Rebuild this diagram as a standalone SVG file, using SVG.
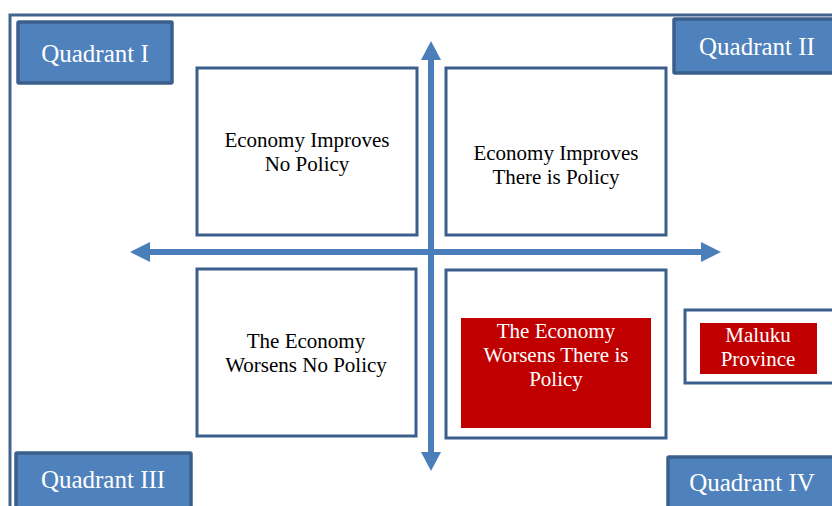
<svg xmlns="http://www.w3.org/2000/svg" width="832" height="506" viewBox="0 0 832 506">
<style>
  .frame{fill:none;stroke:#41658f;stroke-width:3}
  .box{fill:#ffffff;stroke:#3b5f8c;stroke-width:3}
  .quad{fill:#4f81bd;stroke:#3b5f8c;stroke-width:3.5}
  .red{fill:#c00000}
  .axis{stroke:#4a7ebb;stroke-width:6;fill:none}
  .head{fill:#4a7ebb}
  text{font-family:"Liberation Serif","Times New Roman",serif;text-anchor:middle}
  .qt{fill:#ffffff;font-size:25px}
  .bt{fill:#000000;font-size:21px}
  .wt{fill:#ffffff;font-size:21px}
</style>
<rect width="832" height="506" fill="#ffffff"/>
<g id="frame"><path class="frame" d="M10,506 V15 H834"/></g>
<g id="connectors">
  <line class="axis" x1="431" y1="58" x2="431" y2="455"/>
  <polygon class="head" points="431,41 421,60 441,60"/>
  <polygon class="head" points="431,471 421,452 441,452"/>
  <line class="axis" x1="146" y1="252" x2="705" y2="252"/>
  <polygon class="head" points="130,252 150,242 150,262"/>
  <polygon class="head" points="721,252 701,242 701,262"/>
</g>
<g id="quadrant1"><rect class="quad" x="18" y="22" width="154" height="61" rx="1"/><text class="qt" x="95" y="62">Quadrant I</text></g>
<g id="quadrant2"><rect class="quad" x="674" y="19" width="170" height="54" rx="1"/><text class="qt" x="757" y="55">Quadrant II</text></g>
<g id="quadrant3"><rect class="quad" x="16" y="453" width="175" height="60" rx="1"/><text class="qt" x="103" y="488">Quadrant III</text></g>
<g id="quadrant4"><rect class="quad" x="668" y="457" width="175" height="60" rx="1"/><text class="qt" x="752" y="491">Quadrant IV</text></g>
<g id="box-tl"><rect class="box" x="197" y="68" width="220" height="167"/><text class="bt" x="307" y="147">Economy Improves</text><text class="bt" x="307" y="171">No Policy</text></g>
<g id="box-tr"><rect class="box" x="446" y="68" width="220" height="167"/><text class="bt" x="556" y="160">Economy Improves</text><text class="bt" x="556" y="184">There is Policy</text></g>
<g id="box-bl"><rect class="box" x="197" y="269" width="219" height="167"/><text class="bt" x="306" y="348">The Economy</text><text class="bt" x="306" y="372">Worsens No Policy</text></g>
<g id="box-br"><rect class="box" x="446" y="270" width="220" height="168"/><rect class="red" x="461" y="318" width="190" height="110"/><text class="wt" x="556" y="338">The Economy</text><text class="wt" x="556" y="362">Worsens There is</text><text class="wt" x="556" y="386">Policy</text></g>
<g id="maluku"><rect class="box" x="685" y="310" width="150" height="73"/><rect class="red" x="700" y="323" width="117" height="51"/><text class="wt" x="758" y="342">Maluku</text><text class="wt" x="758" y="366">Province</text></g>
</svg>
